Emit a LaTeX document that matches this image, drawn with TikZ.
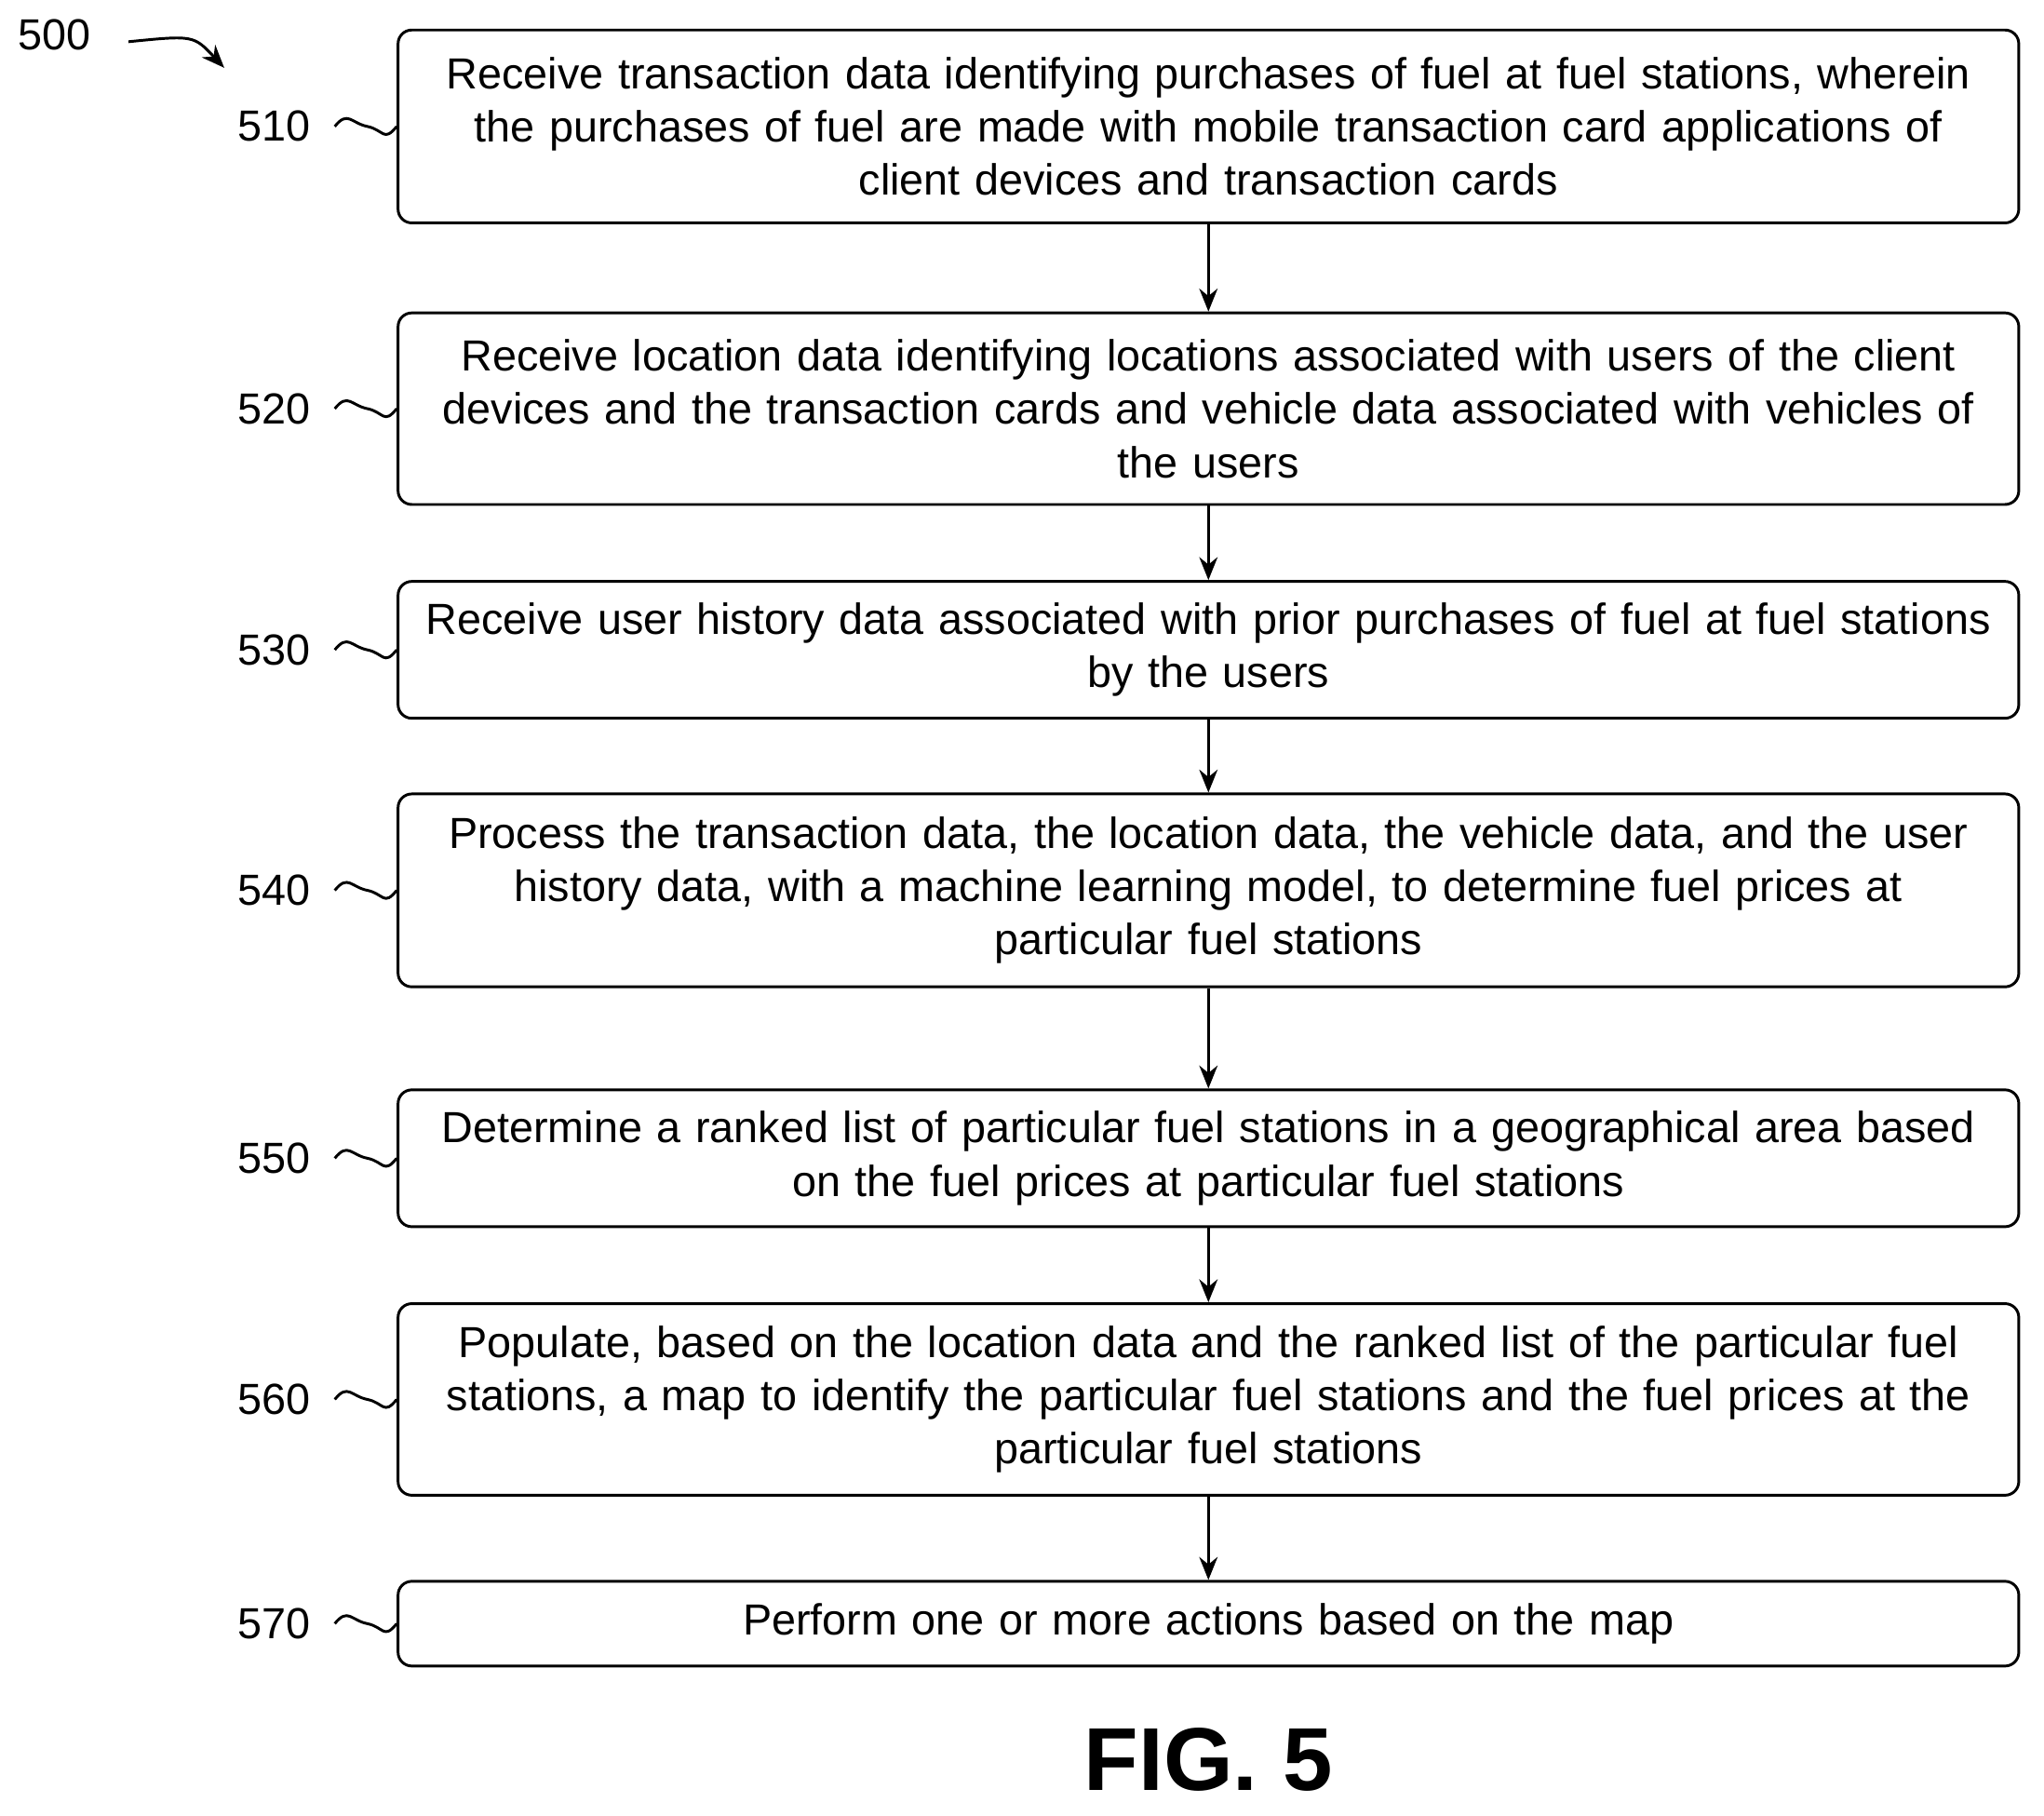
\documentclass[tikz,border=0pt]{standalone}
\usepackage{fontspec}
\setmainfont{Liberation Sans}
\usetikzlibrary{positioning,arrows.meta,calc}
\tikzset{
  proc/.style={draw,line width=1.2pt,rounded corners=6pt,text width=24.8cm,align=center,
    inner sep=1pt,font=\fontsize{19}{23.3}\selectfont},
  num/.style={font=\fontsize{19}{22}\selectfont,anchor=east},
  flow/.style={line width=1.2pt,-{Stealth[length=10pt,width=8pt]}},
  squig/.style={line width=1.2pt}
}
\begin{document}
\begin{tikzpicture}[x=0.02cm,y=-0.02cm]
    \useasboundingbox (0,0) rectangle (1568,1393);

    % Pasos
    \node[proc,minimum height=2.96cm] (s510) at (927,97) {Receive transaction data identifying purchases of fuel at fuel stations, wherein\\ the purchases of fuel are made with mobile transaction card applications of\\ client devices and transaction cards};
    \node[proc,minimum height=2.94cm] (s520) at (927,313.5) {Receive location data identifying locations associated with users of the client\\ devices and the transaction cards and vehicle data associated with vehicles of\\ the users};
    \node[proc,minimum height=2.1cm] (s530) at (927,498.5) {Receive user history data associated with prior purchases of fuel at fuel stations\\ by the users};
    \node[proc,minimum height=2.96cm] (s540) at (927,683) {Process the transaction data, the location data, the vehicle data, and the user\\ history data, with a machine learning model, to determine fuel prices at\\ particular fuel stations};
    \node[proc,minimum height=2.1cm] (s550) at (927,888.5) {Determine a ranked list of particular fuel stations in a geographical area based\\ on the fuel prices at particular fuel stations};
    \node[proc,minimum height=2.94cm] (s560) at (927,1073.5) {Populate, based on the location data and the ranked list of the particular fuel\\ stations, a map to identify the particular fuel stations and the fuel prices at the\\ particular fuel stations};
    \node[proc,minimum height=1.3cm] (s570) at (927,1245.5) {Perform one or more actions based on the map};

    % Flechas
    \foreach \a/\b in {510/520,520/530,530/540,540/550,550/560,560/570}
        \draw[flow] (s\a) -- (s\b);

    % Numeros
    \foreach \n in {510,520,530,540,550,560,570}{
        \node[num] (n\n) at (s\n.west) [xshift=-1.2cm] {\n};
        \coordinate (q\n) at ($(n\n.east)+(0.25cm,0)$);
        \draw[squig] (q\n)
            .. controls +(0.2cm,0.25cm) and +(-0.25cm,0.05cm) .. ($(q\n)+(0.5cm,0)$)
            .. controls +(0.25cm,-0.05cm) and +(-0.2cm,-0.25cm) .. (s\n.west);
    }

    % Etiqueta
    \node[font=\fontsize{19}{22}\selectfont] (fig) at (42,27) {500};
    \coordinate (tail) at ($(fig.east)+(0.45cm,-0.1cm)$);
    \coordinate (tip) at (172,52);
    \draw[flow] (tail) .. controls +(1cm,0.1cm) .. (tip);

    \node[font=\bfseries\fontsize{39}{44}\selectfont] (title) at (927,1350) {FIG. 5};
\end{tikzpicture}
\end{document}
